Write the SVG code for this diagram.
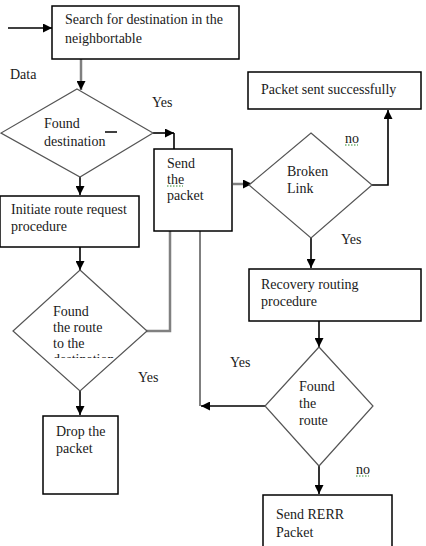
<svg xmlns="http://www.w3.org/2000/svg" width="426" height="546" viewBox="0 0 426 546">
<defs>
<style>
.box{fill:#fff;stroke:#000;stroke-width:1.5}
.dia{fill:#fff;stroke:#555;stroke-width:1.2}
.ln{fill:none;stroke:#000;stroke-width:1.6}
.lg{fill:none;stroke:#808080;stroke-width:2.5}
.lt{fill:none;stroke:#000;stroke-width:1}
.no{fill:none;stroke:#2a8a2a;stroke-width:1;stroke-dasharray:1.5,1.5}
</style>
<marker id="ah" viewBox="0 0 10 10" refX="10" refY="5" markerWidth="9" markerHeight="9" markerUnits="userSpaceOnUse" orient="auto">
<path d="M0,0 L10,5 L0,10 z" fill="#000"/>
</marker>
<clipPath id="clipd"><rect x="0" y="0" width="426" height="358"/></clipPath>
</defs>
<rect width="426" height="546" fill="#fff"/>

<g id="connectors">
<line class="ln" x1="8" y1="28" x2="52" y2="28" marker-end="url(#ah)"/>
<line class="lg" x1="81" y1="59" x2="81" y2="90" marker-end="url(#ah)"/>
<polyline class="ln" points="153,133 174,133" marker-end="url(#ah)"/>
<polyline class="ln" points="174,133 174,149"/>
<line class="ln" x1="80" y1="177" x2="80" y2="195" marker-end="url(#ah)"/>
<line class="lg" x1="233" y1="184" x2="252" y2="184" marker-end="url(#ah)"/>
<polyline class="ln" points="372,185 388,185 388,110" marker-end="url(#ah)"/>
<line class="ln" x1="311" y1="238" x2="311" y2="268" marker-end="url(#ah)"/>
<line class="ln" x1="80" y1="247" x2="80" y2="270" marker-end="url(#ah)"/>
<polyline class="lg" points="146,331 170,331 170,231"/>
<line class="ln" x1="80" y1="391" x2="80" y2="415" marker-end="url(#ah)"/>
<line class="lt" x1="200" y1="231" x2="200" y2="406"/>
<line class="ln" x1="265" y1="406" x2="201" y2="406" marker-end="url(#ah)"/>
<line class="ln" x1="319" y1="321" x2="319" y2="347" marker-end="url(#ah)"/>
<line class="ln" x1="319" y1="466" x2="319" y2="494" marker-end="url(#ah)"/>
</g>

<g id="shapes">
<g id="search"><rect class="box" x="52" y="6" width="187" height="53"/></g>
<g id="found-destination"><polygon class="dia" points="77,89 153,133 80,177 1,133"/>
<line x1="105" y1="132" x2="117" y2="132" stroke="#000" stroke-width="1.5"/></g>
<g id="send-packet"><rect class="box" x="154" y="149" width="78" height="82"/>
<line class="no" x1="167" y1="186" x2="183" y2="186"/></g>
<g id="packet-sent"><rect class="box" x="248" y="72" width="173" height="37"/></g>
<g id="broken-link"><polygon class="dia" points="311,133 372,185 311,238 249,185"/></g>
<g id="initiate"><rect class="box" x="0" y="196" width="139" height="51"/></g>
<g id="found-route-dest"><polygon class="dia" points="80,270 147,331 80,391 13,331"/></g>
<g id="drop"><rect class="box" x="43" y="416" width="75" height="78"/></g>
<g id="recovery"><rect class="box" x="249" y="269" width="172" height="52"/></g>
<g id="found-route"><polygon class="dia" points="319,347 373,406 319,466 265,406"/></g>
<g id="send-rerr"><rect class="box" x="263" y="495" width="129" height="60"/></g>
</g>

<g id="texts" font-family="'Liberation Serif', 'DejaVu Serif', serif" font-size="14" fill="#1a1a1a">
<text x="10" y="79">Data</text>
<text x="152" y="107">Yes</text>
<text x="345" y="143">no</text>
<text x="341" y="244">Yes</text>
<text x="138" y="382">Yes</text>
<text x="230" y="367">Yes</text>
<text x="356" y="474">no</text>
<text x="65" y="24">Search for destination in the</text>
<text x="65" y="43">neighbortable</text>
<text x="44" y="128">Found</text>
<text x="44" y="146">destination</text>
<text x="167" y="168">Send</text>
<text x="167" y="184">the</text>
<text x="167" y="200">packet</text>
<text x="261" y="94">Packet sent successfully</text>
<text x="287" y="176">Broken</text>
<text x="287" y="193">Link</text>
<text x="11" y="214">Initiate route request</text>
<text x="11" y="231">procedure</text>
<text x="53" y="316">Found</text>
<text x="53" y="332">the route</text>
<text x="53" y="348">to the</text>
<text x="53" y="364" clip-path="url(#clipd)">destination</text>
<text x="56" y="436">Drop the</text>
<text x="56" y="453">packet</text>
<text x="261" y="289">Recovery routing</text>
<text x="261" y="306">procedure</text>
<text x="299" y="391">Found</text>
<text x="299" y="408">the</text>
<text x="299" y="425">route</text>
<text x="276" y="519">Send RERR</text>
<text x="276" y="537">Packet</text>
</g>
<g id="underlines">
<line class="no" x1="345" y1="145" x2="358" y2="145"/>
<line class="no" x1="356" y1="476" x2="369" y2="476"/>
</g>
</svg>
